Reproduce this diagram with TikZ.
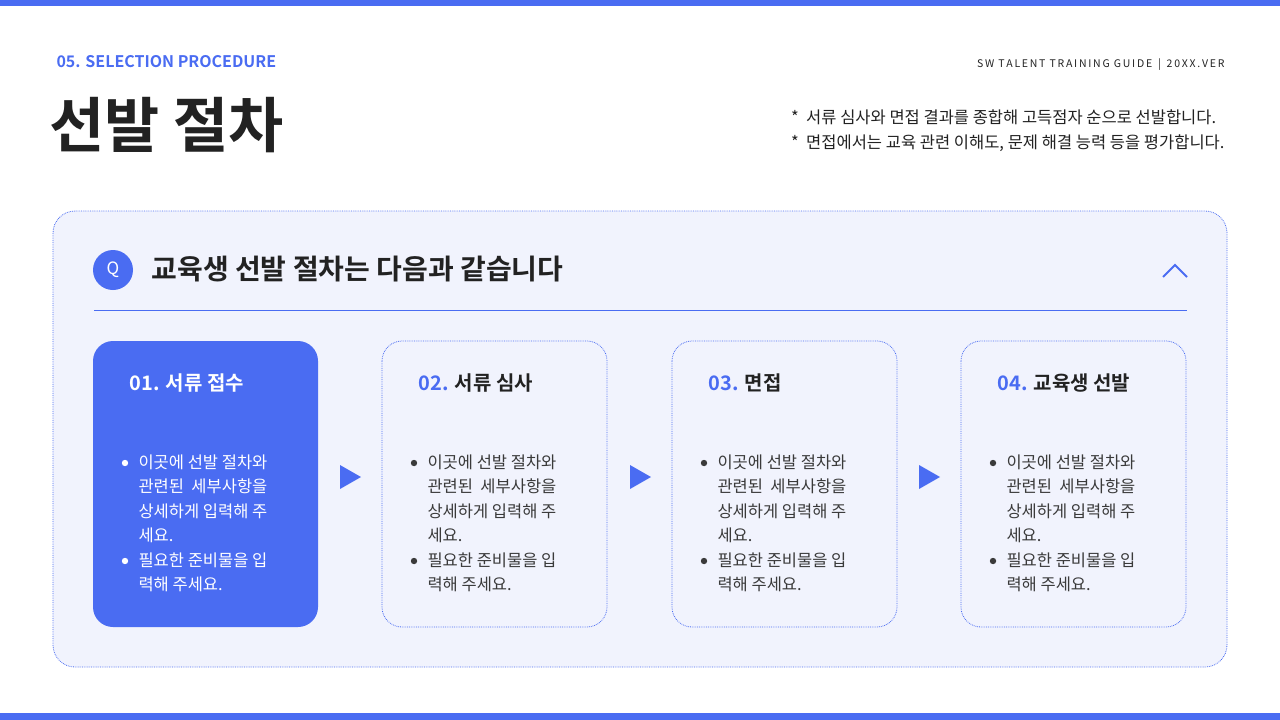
\documentclass[tikz,border=0pt]{standalone}
\usepackage{fontspec}
\setmainfont{Noto Sans CJK KR}[BoldFont={Noto Sans CJK KR Bold}]
\usetikzlibrary{positioning}
\definecolor{acc}{HTML}{4A6CF2}
\definecolor{panel}{HTML}{F1F3FD}
\definecolor{ink}{HTML}{222222}
\definecolor{body}{HTML}{3A3A3A}
\tikzset{
  x=1pt,y=-1pt,
  card/.style={rounded corners=20pt,draw=acc,densely dotted,line width=0.8pt,fill=panel},
  ctitle/.style={anchor=west,font=\bfseries\fontsize{20}{24}\selectfont,text=ink},
  btext/.style={anchor=north west,align=left,font=\fontsize{16.5}{24.5}\selectfont,text=body},
  tri/.style={fill=acc,draw=none},
}
\newcommand{\cardbody}[3]{%
  \fill[#3] (#1+32,#2+463) circle (3.2pt);
  \fill[#3] (#1+32,#2+561) circle (3.2pt);
  \node[btext,text=#3] (b#1) at (#1+42,#2+451) {이곳에 선발 절차와\\관련된~~세부사항을\\상세하게 입력해 주\\세요.\\필요한 준비물을 입\\력해 주세요.};}
\begin{document}
\begin{tikzpicture}
\useasboundingbox (0,0) rectangle (1280,720);
\fill[white] (0,0) rectangle (1280,720);
\fill[acc] (0,0) rectangle (1280,6);
\fill[acc] (0,713) rectangle (1280,720);
\node[anchor=west,text=acc,font=\bfseries\fontsize{16}{18}\selectfont] (sec) at (53,62) {05. SELECTION PROCEDURE};
\node[anchor=west,text=ink,font=\bfseries\fontsize{60}{66}\selectfont] (ttl) at (46,125) {선발 절차};
\node[anchor=east,text=ink,font=\fontsize{10.5}{12}\selectfont] (guide) at (1228,65) {S\,W\, T\,A\,L\,E\,N\,T\, T\,R\,A\,I\,N\,I\,N\,G\, G\,U\,I\,D\,E\, \,|\, \,2\,0\,X\,X\,.\,V\,E\,R};
\node[anchor=north east,align=left,text=ink,font=\fontsize{16.5}{25}\selectfont] (notes) at (1228,106) {*~ 서류 심사와 면접 결과를 종합해 고득점자 순으로 선발합니다.\\*~ 면접에서는 교육 관련 이해도, 문제 해결 능력 등을 평가합니다.};
\draw[card,rounded corners=22pt] (53,211) rectangle (1227,667);
\fill[acc] (113,270) circle (20);
\node[text=white,font=\fontsize{17}{20}\selectfont] (q) at (113,270) {Q};
\node[anchor=west,text=ink,font=\bfseries\fontsize{28}{32}\selectfont] (head) at (148,269) {교육생 선발 절차는 다음과 같습니다};
\draw[acc,line width=1.8pt] (1163,277) -- (1175,265) -- (1187,277);
\draw[acc,line width=0.8pt] (94,310) -- (1187,310);
% cards
\fill[acc,rounded corners=20pt] (93,341) rectangle (318,627);
\node[ctitle,text=white] (t1) at (126,383) {01. 서류 접수};
\cardbody{93}{0}{white}
\draw[card] (382,341) rectangle (607,627);
\node[ctitle] (t2) at (415,383) {\textcolor{acc}{02.} 서류 심사};
\cardbody{382}{0}{body}
\draw[card] (672,341) rectangle (897,627);
\node[ctitle] (t3) at (705,383) {\textcolor{acc}{03.} 면접};
\cardbody{672}{0}{body}
\draw[card] (961,341) rectangle (1186,627);
\node[ctitle] (t4) at (994,383) {\textcolor{acc}{04.} 교육생 선발};
\cardbody{961}{0}{body}
\foreach \x in {340,630,919} \fill[acc] (\x,465) -- (\x+21,477) -- (\x,489) -- cycle;
\end{tikzpicture}
\end{document}
